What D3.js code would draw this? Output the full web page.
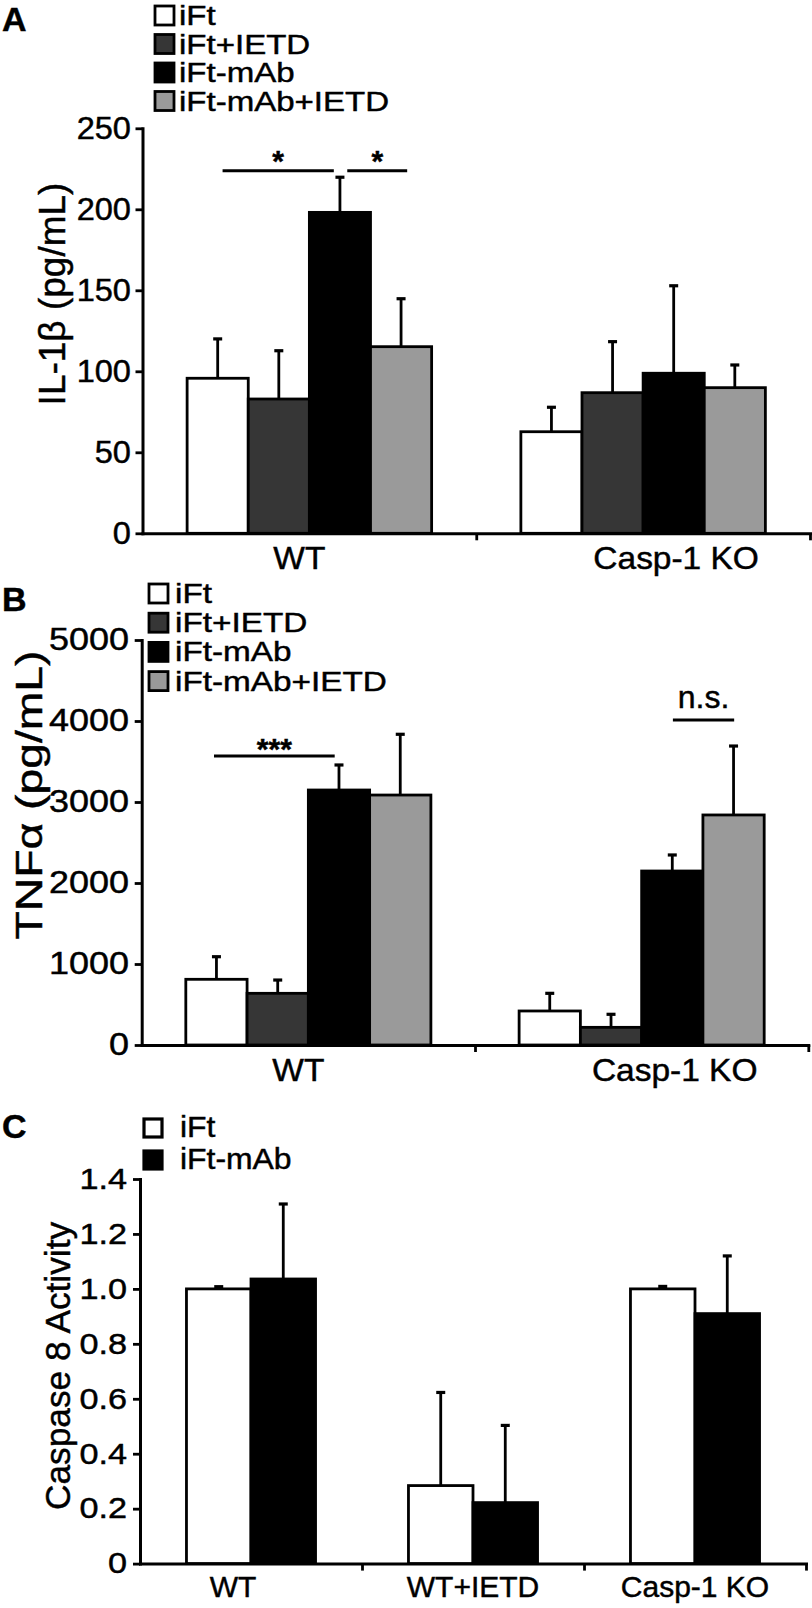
<!DOCTYPE html>
<html><head><meta charset="utf-8">
<script src="https://cdnjs.cloudflare.com/ajax/libs/d3/7.8.5/d3.min.js"></script>
<style>
body{margin:0;background:#fff}
svg{display:block}
text{font-family:"Liberation Sans",Arial,Helvetica,sans-serif;fill:#000;stroke:#000;stroke-width:0.45px}
</style>
</head><body>
<svg id="chart" width="812" height="1608"></svg>
<script>
// ---------------- DATA ----------------
const treatmentsAB = ["iFt", "iFt+IETD", "iFt-mAb", "iFt-mAb+IETD"];
const groupsAB = ["WT", "Casp-1 KO"];
const fillsAB = ["#ffffff", "#363636", "#000000", "#9a9a9a"];

// Panel A: IL-1beta (pg/mL), per group, one value per treatment
const il1bWT = [95.7, 82.9, 198.1, 115.2];
const il1bWTErr = [24.3, 29.8, 21.7, 29.6];
const il1bKO = [62.7, 86.8, 98.8, 89.9];
const il1bKOErr = [15.1, 31.5, 54.0, 14.0];
const il1bTicks = [0, 50, 100, 150, 200, 250];

// Panel B: TNFalpha (pg/mL)
const tnfWT = [811, 638, 3148, 3086];
const tnfWTErr = [279, 164, 309, 750];
const tnfKO = [420, 218, 2148, 2840];
const tnfKOErr = [218, 161, 198, 851];
const tnfTicks = [0, 1000, 2000, 3000, 4000, 5000];

// Panel C: Caspase 8 activity
const treatmentsC = ["iFt", "iFt-mAb"];
const groupsC = ["WT", "WT+IETD", "Casp-1 KO"];
const fillsC = ["#ffffff", "#000000"];
const casp8iFt = [1.0, 0.284, 1.0];
const casp8iFtErr = [0.008, 0.339, 0.009];
const casp8mAb = [1.036, 0.222, 0.910];
const casp8mAbErr = [0.273, 0.281, 0.210];
const casp8Ticks = [0, 0.2, 0.4, 0.6, 0.8, 1.0, 1.2, 1.4];
const casp8TickLabels = ["0", "0.2", "0.4", "0.6", "0.8", "1.0", "1.2", "1.4"];

// significance annotations: from/to in bar units within a group, y in data units
const sigA = [
  {group: "WT", from: 0.58, to: 2.40, y: 223.8, label: "*"},
  {group: "WT", from: 2.62, to: 3.60, y: 223.8, label: "*"}
];
const sigB = [
  {group: "WT", from: 0.46, to: 2.43, y: 3568, label: "***"},
  {group: "Casp-1 KO", from: 2.51, to: 3.51, y: 4012, label: "n.s."}
];

// ---------------- DRAWING ----------------
const svg = d3.select("#chart");

function stretchText(sel, sx) {
  sel.attr("transform", `scale(${sx},1)`);
}

function drawPanel(p) {
  const g = svg.append("g");
  const x = d3.scaleBand().domain(p.groups).range([p.x0, p.x1]).padding(0);
  const xi = d3.scaleBand().domain(d3.range(p.series.length))
    .range([0, x.bandwidth()]).paddingInner(0).paddingOuter(p.padOuter);
  const y = d3.scaleLinear().domain([0, p.yMax]).range([p.yBot, p.yTop]);
  const bw = xi.bandwidth();

  // bars + error bars
  p.groups.forEach((grp, gi) => {
    const gg = g.append("g").attr("transform", `translate(${x(grp)},0)`);
    const rows = p.series.map((s, si) => ({si, v: p.values[gi][si], e: p.errs[gi][si]}));
    gg.selectAll("line.err").data(rows).join("line").attr("class", "err")
      .attr("x1", d => xi(d.si) + bw / 2).attr("x2", d => xi(d.si) + bw / 2)
      .attr("y1", d => y(d.v)).attr("y2", d => y(d.v + d.e))
      .attr("stroke", "#000").attr("stroke-width", 2.8);
    gg.selectAll("line.cap").data(rows).join("line").attr("class", "cap")
      .attr("x1", d => xi(d.si) + bw / 2 - 4.5).attr("x2", d => xi(d.si) + bw / 2 + 4.5)
      .attr("y1", d => y(d.v + d.e)).attr("y2", d => y(d.v + d.e))
      .attr("stroke", "#000").attr("stroke-width", 3.2);
    gg.selectAll("rect").data(rows).join("rect")
      .attr("x", d => xi(d.si)).attr("y", d => y(d.v))
      .attr("width", bw).attr("height", d => y(0) - y(d.v))
      .attr("fill", d => p.fills[d.si]).attr("stroke", "#000").attr("stroke-width", 2.8);
  });

  // y axis
  const ya = g.append("g").attr("transform", `translate(${p.x0},0)`)
    .call(d3.axisLeft(y).tickValues(p.yTicks).tickFormat(p.yFmt)
      .tickSize(7).tickSizeOuter(0).tickPadding(p.tickPad));
  ya.select(".domain").attr("stroke-width", 3).attr("stroke-linecap", "square");
  ya.selectAll(".tick line").attr("stroke-width", 2.8);
  ya.selectAll(".tick text").attr("font-size", p.tickFs).attr("font-family", null);
  stretchText(ya.selectAll(".tick text"), p.tickSx);

  // x axis: boundary ticks
  const xb = d3.scaleLinear().domain([0, p.groups.length]).range([p.x0, p.x1]);
  const xa = g.append("g").attr("transform", `translate(0,${p.yBot})`)
    .call(d3.axisBottom(xb).tickValues(d3.range(1, p.groups.length + 1))
      .tickFormat("").tickSize(7).tickSizeOuter(0));
  xa.select(".domain").attr("stroke-width", 3).attr("stroke-linecap", "square");
  xa.selectAll(".tick line").attr("stroke-width", 2.8);

  // x axis: group labels
  const xl = g.append("g").attr("transform", `translate(0,${p.yBot})`)
    .call(d3.axisBottom(x).tickSize(0).tickPadding(p.xlabPad));
  xl.select(".domain").remove();
  xl.selectAll(".tick").attr("transform", (d, i) => `translate(${x(d) + x.bandwidth() / 2 + p.xlabDx[i]},0)`);
  xl.selectAll(".tick text").attr("font-size", p.xlabFs).attr("font-family", null).attr("dy", "0.71em");
  stretchText(xl.selectAll(".tick text"), p.xlabSx);

  // y title
  g.append("text")
    .attr("transform", `translate(${p.titleX},${p.titleY}) rotate(-90) scale(${p.titleSx},1)`)
    .attr("text-anchor", "middle").attr("font-size", p.titleFs).text(p.title);

  // panel letter
  g.append("text").attr("x", 2).attr("y", p.letterY)
    .attr("font-size", 34).attr("font-weight", "bold").text(p.letter);

  // legend
  const L = p.legend;
  const lg = g.append("g");
  p.series.forEach((s, i) => {
    const by = L.y + i * L.dy;
    lg.append("rect").attr("x", L.x).attr("y", by - L.box)
      .attr("width", L.box).attr("height", L.box)
      .attr("fill", p.fills[i]).attr("stroke", "#000").attr("stroke-width", L.sw);
    lg.append("text").attr("transform", `translate(${L.textX},${by}) scale(${L.sx},1)`)
      .attr("font-size", L.fs).text(s);
  });

  // significance marks
  (p.sig || []).forEach(s => {
    const gx = x(s.group) + xi(0);
    const t = d3.scaleLinear().domain([0, p.series.length]).range([gx, gx + bw * p.series.length]);
    const yy = y(s.y);
    g.append("line").attr("x1", t(s.from)).attr("x2", t(s.to)).attr("y1", yy).attr("y2", yy)
      .attr("stroke", "#000").attr("stroke-width", 3);
    const isStar = s.label.indexOf("*") >= 0;
    g.append("text").attr("x", (t(s.from) + t(s.to)) / 2)
      .attr("y", yy + (isStar ? p.starDy : -12))
      .attr("text-anchor", "middle")
      .attr("font-size", isStar ? 30 : 32)
      .attr("font-weight", isStar ? "bold" : "normal")
      .text(s.label);
  });
}

drawPanel({
  groups: groupsAB, series: treatmentsAB, fills: fillsAB,
  values: [il1bWT, il1bKO], errs: [il1bWTErr, il1bKOErr],
  yMax: 250, yTicks: il1bTicks, yFmt: d3.format("d"),
  x0: 142.5, x1: 810, yTop: 128.3, yBot: 533.3, padOuter: 0.73,
  tickFs: 31, tickSx: 1.05, tickPad: 4,
  xlabFs: 31, xlabSx: 1.08, xlabPad: 14, xlabDx: [-10, 33],
  title: "IL-1β (pg/mL)", titleX: 65, titleY: 294, titleSx: 1.0, titleFs: 37,
  letter: "A", letterY: 31,
  legend: {x: 155, y: 25, dy: 28.5, box: 19, sw: 2.8, textX: 179, fs: 28, sx: 1.18},
  sig: sigA, starDy: 0
});

drawPanel({
  groups: groupsAB, series: treatmentsAB, fills: fillsAB,
  values: [tnfWT, tnfKO], errs: [tnfWTErr, tnfKOErr],
  yMax: 5000, yTicks: tnfTicks, yFmt: d3.format("d"),
  x0: 141.7, x1: 808.3, yTop: 640, yBot: 1045, padOuter: 0.72,
  tickFs: 31, tickSx: 1.16, tickPad: 4,
  xlabFs: 31, xlabSx: 1.08, xlabPad: 14, xlabDx: [-10, 33],
  title: "TNFα (pg/mL)", titleX: 42, titleY: 795, titleSx: 1.25, titleFs: 37,
  letter: "B", letterY: 611,
  legend: {x: 149, y: 603, dy: 29.2, box: 19, sw: 2.8, textX: 175, fs: 28, sx: 1.19},
  sig: sigB, starDy: 3
});

drawPanel({
  groups: groupsC, series: treatmentsC, fills: fillsC,
  values: groupsC.map((g, i) => [casp8iFt[i], casp8mAb[i]]),
  errs: groupsC.map((g, i) => [casp8iFtErr[i], casp8mAbErr[i]]),
  yMax: 1.4, yTicks: casp8Ticks, yFmt: (d, i) => casp8TickLabels[i],
  x0: 140, x1: 806, yTop: 1179, yBot: 1563.6, padOuter: 0.72,
  tickFs: 29, tickSx: 1.18, tickPad: 4,
  xlabFs: 30, xlabSx: 1.0, xlabPad: 12, xlabDx: [-18, 0, 0],
  title: "Caspase 8 Activity", titleX: 70, titleY: 1366, titleSx: 0.98, titleFs: 36,
  letter: "C", letterY: 1138,
  legend: {x: 144, y: 1137, dy: 32, box: 18, sw: 3.2, textX: 180, fs: 29, sx: 1.1},
  sig: [], starDy: 0
});
</script>
</body></html>
